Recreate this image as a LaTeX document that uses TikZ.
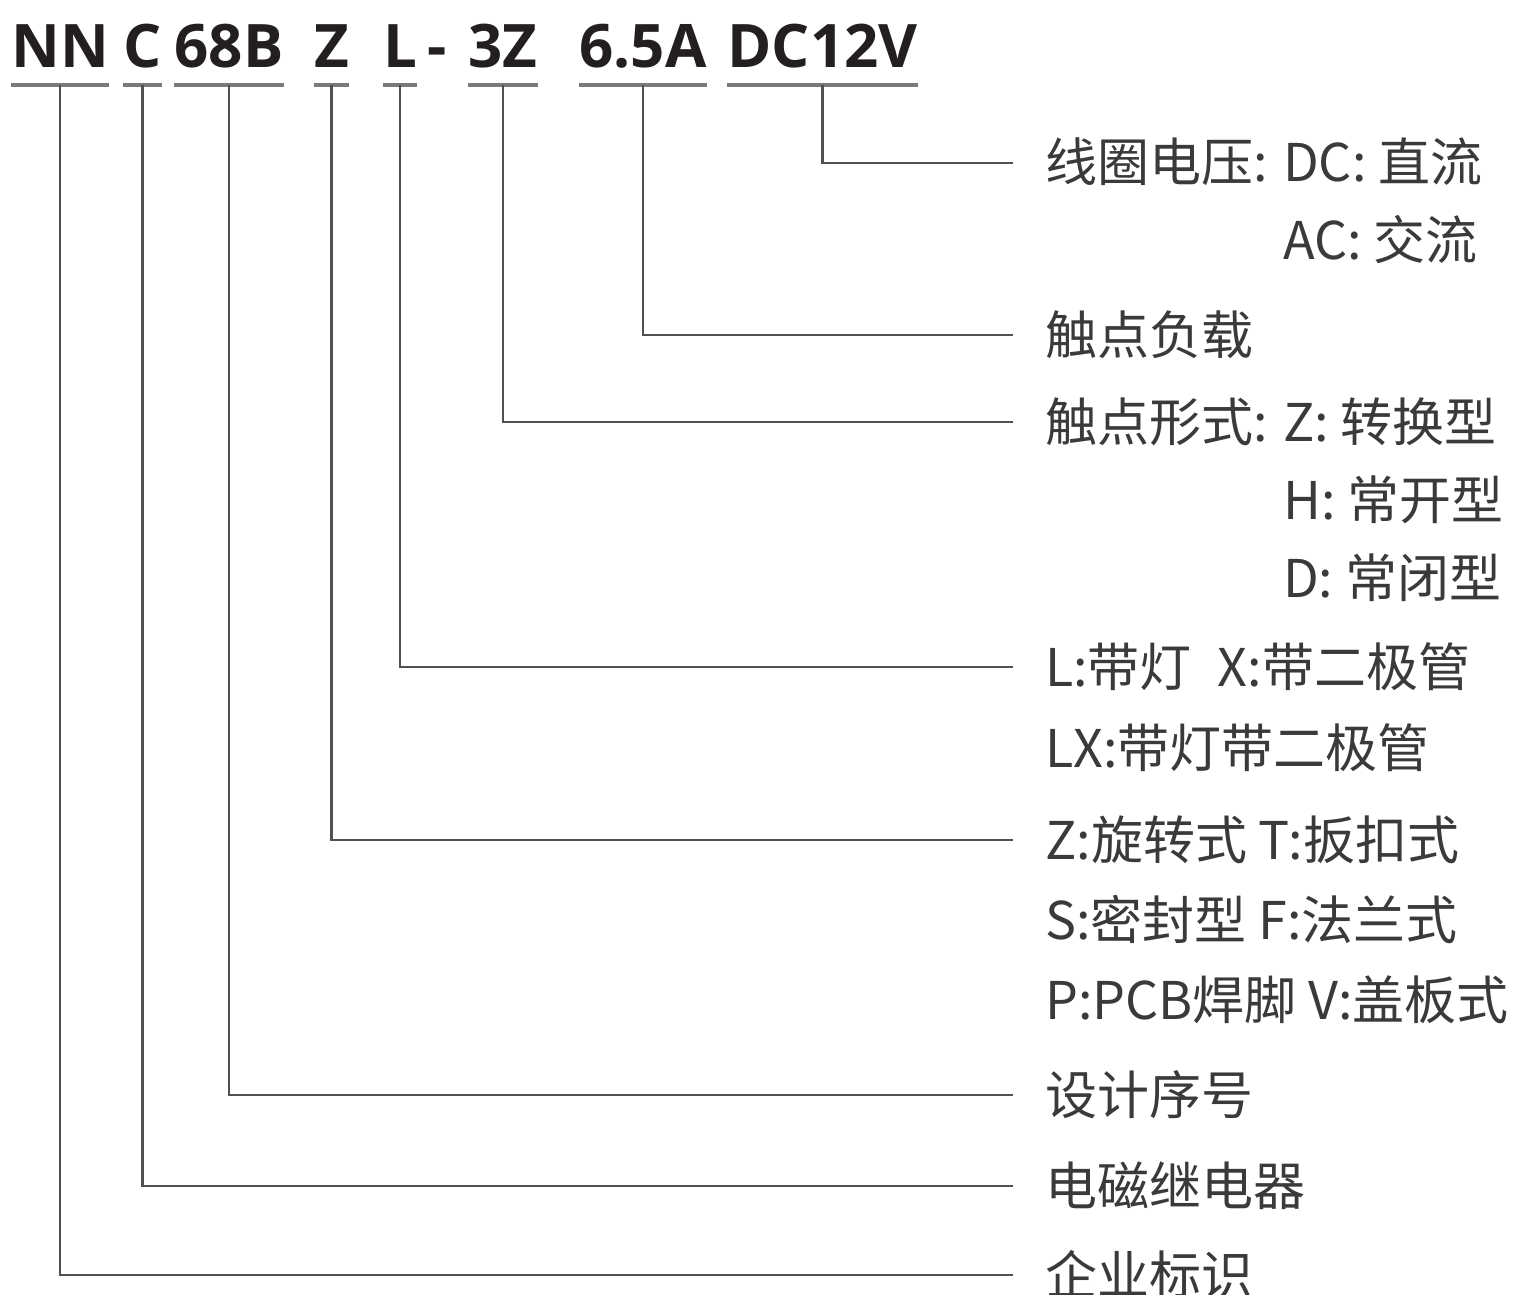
\documentclass[tikz,border=0pt]{standalone}
\usepackage{fontspec}
\setmainfont{Open Sans}
\newfontfamily\cjk{Noto Sans CJK SC}
\definecolor{hdr}{HTML}{231F20}
\definecolor{ulc}{HTML}{7A7A7A}
\definecolor{lnc}{HTML}{505050}
\definecolor{txc}{HTML}{3A3A3A}
\begin{document}
\begin{tikzpicture}[x=1pt,y=-1pt,
  tok/.style={font=\fontsize{60}{60}\selectfont\bfseries, text=hdr, inner xsep=0pt, inner ysep=0pt, text depth=17pt, anchor=base},
  uline/.style={draw=ulc, line width=4pt},
  conn/.style={draw=lnc, line width=2.4pt, shorten >=32pt},
  lbl/.style={font=\cjk\fontsize{52}{52}\selectfont, text=txc, inner sep=0pt, text height=45pt, text depth=7pt, anchor=west}]
\useasboundingbox (0,0) rectangle (1521,1295);
% header tokens
\node[tok, minimum width=90pt] (tNN) at (60,68) {NN};
\node[tok, minimum width=31pt] (tC) at (142.5,68) {C};
\node[tok, minimum width=102pt] (tB) at (229,68) {68B};
\node[tok, minimum width=33pt] (tZ) at (331.5,68) {Z};
\node[tok, minimum width=34pt] (tL) at (400,68) {L};
\node[tok] (tdash) at (437,68) {-};
\node[tok, minimum width=66pt] (t3Z) at (503,68) {3Z};
\node[tok, minimum width=110pt] (tA) at (643,68) {6.5A};
\node[tok, minimum width=181pt] (tV) at (822.5,68) {DC12V};
\foreach \t in {tNN,tC,tB,tZ,tL,t3Z,tA,tV}
  \draw[uline] (\t.south west) -- (\t.south east);
% labels
\node[lbl] (lV) at (1045,163) {线圈电压: DC: 直流};
\node[lbl] (lAC) at (1283,240) {AC: 交流};
\node[lbl] (lA) at (1045,335) {触点负载};
\node[lbl] (l3Z) at (1045,422) {触点形式: Z: 转换型};
\node[lbl] (lH) at (1283,500) {H: 常开型};
\node[lbl] (lD) at (1283,578) {D: 常闭型};
\node[lbl] (lL) at (1045,667) {L:带灯\hspace{26pt}X:带二极管};
\node[lbl] (lLX) at (1045,748) {LX:带灯带二极管};
\node[lbl] (lZ) at (1045,840) {Z:旋转式 T:扳扣式};
\node[lbl] (lS) at (1045,920) {S:密封型 F:法兰式};
\node[lbl] (lP) at (1045,1000) {P:PCB焊脚 V:盖板式};
\node[lbl] (lB) at (1045,1095) {设计序号};
\node[lbl] (lC) at (1045,1186) {电磁继电器};
\node[lbl] (lNN) at (1045,1275) {企业标识};
% connectors
\draw[conn] (tV.south) |- (lV.west);
\draw[conn] (tA.south) |- (lA.west);
\draw[conn] (t3Z.south) |- (l3Z.west);
\draw[conn] (tL.south) |- (lL.west);
\draw[conn] (tZ.south) |- (lZ.west);
\draw[conn] (tB.south) |- (lB.west);
\draw[conn] (tC.south) |- (lC.west);
\draw[conn] (tNN.south) |- (lNN.west);
\end{tikzpicture}
\end{document}
